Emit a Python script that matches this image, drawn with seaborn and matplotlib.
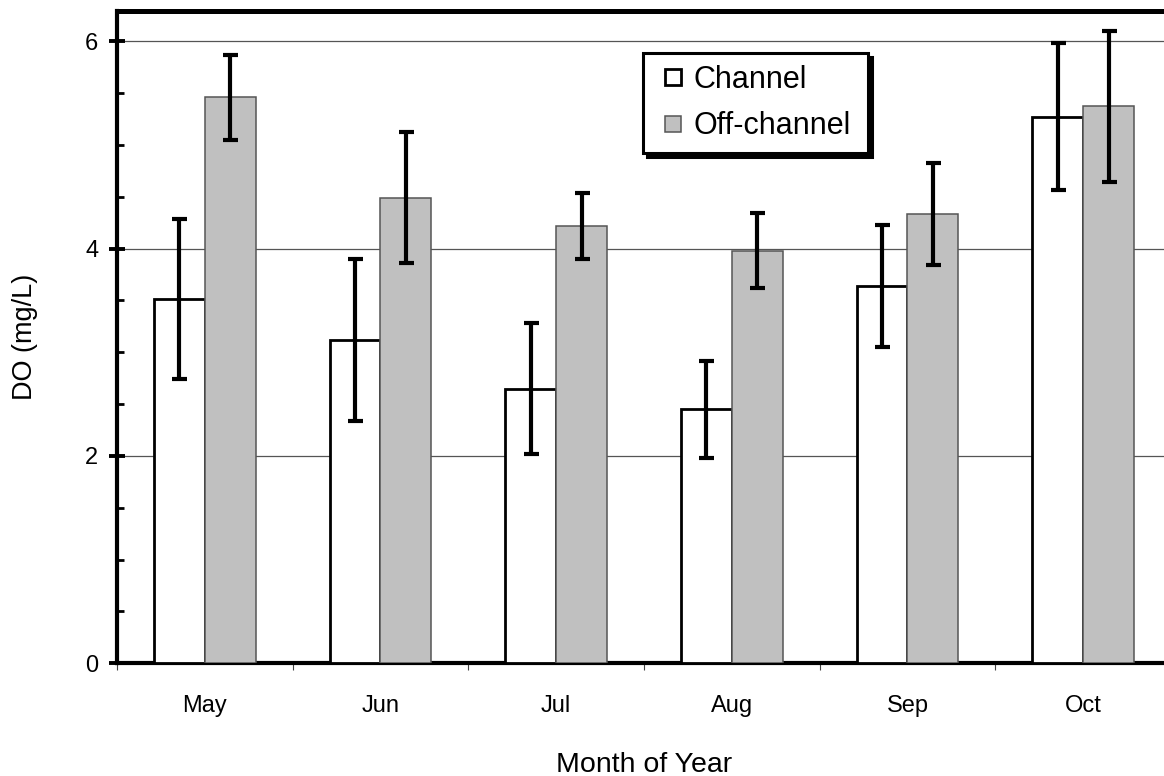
import matplotlib
matplotlib.use("Agg")
import matplotlib.pyplot as plt
import seaborn as sns
import pandas as pd
import numpy as np
from matplotlib.lines import Line2D
from matplotlib.ticker import MultipleLocator, FixedLocator

# ---- data ----
months = ["May", "Jun", "Jul", "Aug", "Sep", "Oct"]
groups = ["Channel", "Off-channel"]
channel_mean = [3.51, 3.12, 2.65, 2.45, 3.64, 5.27]
channel_err = [0.77, 0.78, 0.63, 0.47, 0.59, 0.71]
off_mean = [5.46, 4.49, 4.22, 3.98, 4.33, 5.37]
off_err = [0.41, 0.63, 0.32, 0.36, 0.49, 0.73]
yticks = [0, 2, 4, 6]

sns.set_theme(style="white")
plt.rcParams['font.family'] = ['Liberation Sans', 'DejaVu Sans']

df = pd.DataFrame({
    "Month": months * 2,
    "Group": ["Channel"] * len(months) + ["Off-channel"] * len(months),
    "DO": channel_mean + off_mean,
})
errs = {"Channel": channel_err, "Off-channel": off_err}
fills = {"Channel": "white", "Off-channel": "#C0C0C0"}
edges = {"Channel": ("black", 2.0), "Off-channel": ("#555555", 1.1)}

fig = plt.figure(figsize=(11.64, 7.76), dpi=100)
ax = fig.add_axes([0.1005, 0.1452, 0.9055, 0.8406])

sns.barplot(data=df, x="Month", y="DO", hue="Group", order=months,
            hue_order=groups, palette=fills, width=0.58, saturation=1,
            errorbar=None, legend=False, ax=ax)

for cont, g in zip(ax.containers, groups):
    ec, lw = edges[g]
    xs, hs, es = [], [], []
    for bar in cont:
        bar.set_edgecolor(ec)
        bar.set_linewidth(lw)
        bar.set_zorder(3)
        cx = bar.get_x() + bar.get_width() / 2
        idx = int(round(cx))
        xs.append(cx)
        hs.append(bar.get_height())
        es.append(errs[g][idx])
    ax.errorbar(xs, hs, yerr=es, fmt='none', ecolor='black', elinewidth=3.0,
                capsize=5.4, capthick=3.0, zorder=5)

ax.set_ylim(0, 6.29)
ax.set_xlim(-0.5, len(months) - 0.5)
ax.yaxis.set_major_locator(FixedLocator(yticks))
ax.yaxis.set_minor_locator(MultipleLocator(0.5))
ax.xaxis.set_minor_locator(FixedLocator(np.arange(-0.5, len(months), 1.0)))

ax.yaxis.grid(True, which='major', color='#555555', linewidth=0.9)
ax.set_axisbelow(True)

for side in ['left', 'bottom']:
    ax.spines[side].set_color('black')
    ax.spines[side].set_linewidth(3.0)
ax.spines['top'].set_color('black')
ax.spines['top'].set_linewidth(3.6)
ax.spines['right'].set_visible(False)

ax.tick_params(axis='y', which='major', direction='inout', length=11, width=2.8,
               labelsize=17, pad=8, color='black', left=True, labelcolor='black')
ax.tick_params(axis='y', which='minor', direction='in', length=5, width=2.0,
               color='black', left=True)
ax.tick_params(axis='x', which='major', length=0, pad=23, labelsize=17,
               labelcolor='black')
ax.tick_params(axis='x', which='minor', direction='out', length=5, width=0.8,
               color='#444444', bottom=True)

ax.set_xlabel("Month of Year", fontsize=20.5, labelpad=25, color='black')
ax.set_ylabel("DO (mg/L)", fontsize=19.5, labelpad=34, color='black')

handles = [Line2D([], [], linestyle='none', marker='s', markersize=12.2,
                  markerfacecolor=fills[g], markeredgecolor=edges[g][0],
                  markeredgewidth=edges[g][1], label=g)
           for g in groups]
# legend box spans x 643..868 px, top near 53 px
ax_w_px = 0.9055 * 1164
ax_h_px = 0.8406 * 776
x0 = (643 - 117) / ax_w_px
w = (868 - 643) / ax_w_px
ytop = (663.3 - 53) / ax_h_px
leg = ax.legend(handles=handles, loc='upper left',
                bbox_to_anchor=(x0, ytop - 0.2, w, 0.2), mode='expand',
                borderaxespad=0, fontsize=22, frameon=True, fancybox=False,
                shadow={'ox': 3, 'oy': -3, 'facecolor': 'black', 'edgecolor': 'black', 'alpha': 1},
                handlelength=1.2, handletextpad=0.07,
                borderpad=0.385, labelspacing=0.54, edgecolor='black', framealpha=1)
leg.get_frame().set_linewidth(2.2)
for t in leg.get_texts():
    t.set_color('black')

fig.savefig("out.png", dpi=100)
